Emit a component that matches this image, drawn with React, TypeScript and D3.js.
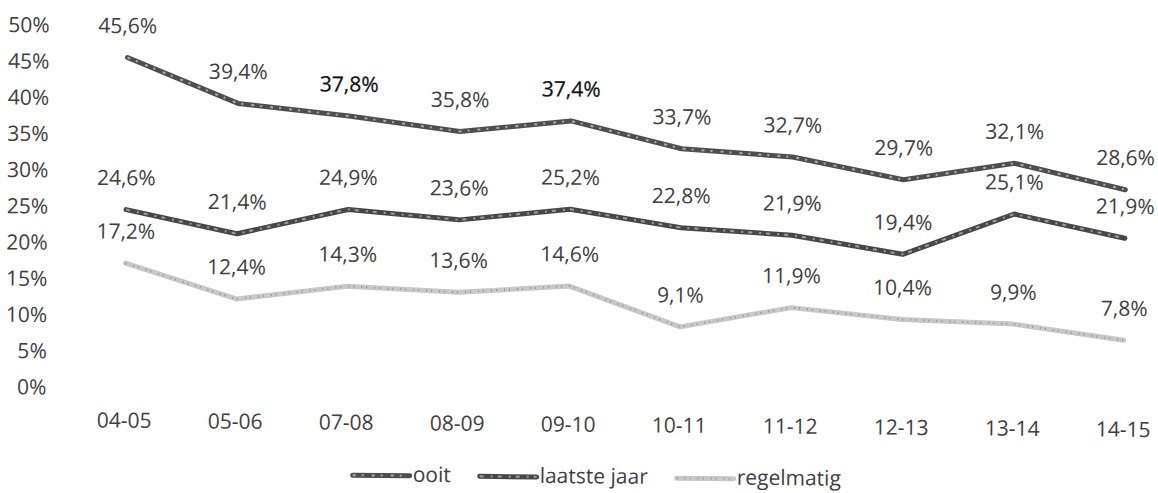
import React from "react";
import * as d3 from "d3";

const categories = ["04-05", "05-06", "07-08", "08-09", "09-10", "10-11", "11-12", "12-13", "13-14", "14-15"];
const ooit = [45.6, 39.4, 37.8, 35.8, 37.4, 33.7, 32.7, 29.7, 32.1, 28.6];
const laatsteJaar = [24.6, 21.4, 24.9, 23.6, 25.2, 22.8, 21.9, 19.4, 25.1, 21.9];
const regelmatig = [17.2, 12.4, 14.3, 13.6, 14.6, 9.1, 11.9, 10.4, 9.9, 7.8];
const yTicks = [0, 5, 10, 15, 20, 25, 30, 35, 40, 45, 50];
const seriesNames = ["ooit", "laatste jaar", "regelmatig"];
const emphasisedOoit = ["07-08", "09-10"];

const W = 1158;
const H = 493;
const FONT = "'Open Sans', 'Noto Sans', sans-serif";

const styles = [
  { base: "#4e4e4e", over: "#ababab", dash: "3 6 2 8" },
  { base: "#474747", over: "#9c9c9c", dash: "4 7 2 5" },
  { base: "#c8c8c8", over: "#909090", dash: "1 7 1 4" },
];

const fmt = (v: number) => d3.format(".1f")(v).replace(".", ",") + "%";

export default function App() {
  const x = d3.scalePoint<string>().domain(categories).range([128, 1127]);
  const y = d3.scaleLinear().domain([0, 50]).range([386.6, 24.5]);
  const data = [ooit, laatsteJaar, regelmatig];
  const line = d3
    .line<number>()
    .x((_, i) => x(categories[i]) as number)
    .y((v) => y(v));

  const legendX = [357, 484, 681];

  return (
    <svg
      width={W}
      height={H}
      style={{ position: "absolute", left: 0, top: 0, background: "#fff" }}
      fontFamily={FONT}
    >
      <rect width={W} height={H} fill="#fff" />
      <g transform="rotate(0.52)">
        {yTicks.map((t) => (
          <text key={t} x={50} y={y(t)} dy="0.36em" textAnchor="end" fontSize={21} fill="#404040">
            {t}%
          </text>
        ))}
        {categories.map((c) => (
          <text key={c} x={x(c)} y={419} dy="0.36em" textAnchor="middle" fontSize={21} fill="#404040">
            {c}
          </text>
        ))}
        {data.map((vals, si) => (
          <g key={si}>
            <path d={line(vals) || ""} fill="none" stroke={styles[si].base} strokeWidth={5} strokeLinejoin="round" strokeLinecap="round" />
            <path d={line(vals) || ""} fill="none" stroke={styles[si].over} strokeWidth={2} strokeDasharray={styles[si].dash} strokeLinejoin="round" />
          </g>
        ))}
        {data.map((vals, si) =>
          vals.map((v, i) => {
            const emph = si === 0 && emphasisedOoit.includes(categories[i]);
            return (
              <text
                key={`${si}-${i}`}
                x={x(categories[i])}
                y={y(v) - 32}
                dy="0.36em"
                textAnchor="middle"
                fontSize={21}
                fill={emph ? "#111" : "#404040"}
                stroke={emph ? "#111" : "none"}
                strokeWidth={emph ? 0.25 : 0}
              >
                {fmt(v)}
              </text>
            );
          })
        )}
        {seriesNames.map((n, si) => (
          <g key={n}>
            <line x1={legendX[si]} x2={legendX[si] + 57} y1={472} y2={472} stroke={styles[si].base} strokeWidth={5} strokeLinecap="round" />
            <line x1={legendX[si]} x2={legendX[si] + 57} y1={472} y2={472} stroke={styles[si].over} strokeWidth={2} strokeDasharray={styles[si].dash} />
            <text x={legendX[si] + 60} y={478} fontSize={21} fill="#404040">
              {n}
            </text>
          </g>
        ))}
      </g>
    </svg>
  );
}
